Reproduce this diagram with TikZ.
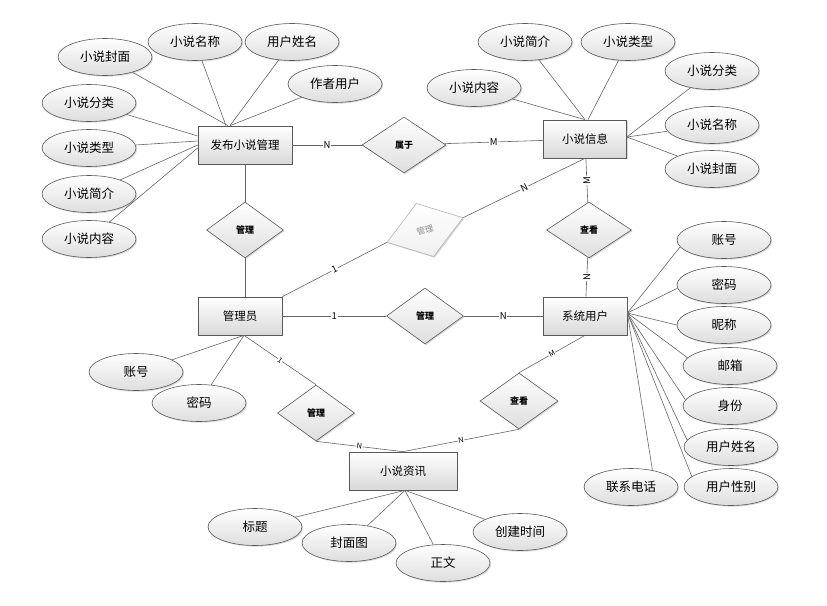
\documentclass[tikz,border=0pt]{standalone}
\usepackage{fontspec}
\setmainfont{Noto Sans CJK SC}
\usetikzlibrary{shapes.geometric,shadows}

\begin{document}
\begin{tikzpicture}[x = 1pt, y = -1pt,
    attr/.style = {ellipse, draw = black!65, line width = 0.6pt, top color = white, bottom color = black!13,
        drop shadow = {shadow xshift = 1.2pt, shadow yshift = -1.2pt, opacity = 0.3},
        minimum width = 94pt, minimum height = 37pt, inner sep = 0pt, font = \fontsize{12.5}{14}\selectfont},
    entity/.style = {rectangle, draw = black!65, line width = 0.7pt, top color = white, bottom color = black!15,
        drop shadow = {shadow xshift = 1.2pt, shadow yshift = -1.2pt, opacity = 0.3},
        minimum height = 38pt, inner sep = 0pt, font = \fontsize{11.5}{13}\selectfont},
    rel/.style = {diamond, draw = black!65, line width = 0.6pt, top color = white, bottom color = black!13,
        drop shadow = {shadow xshift = 1.2pt, shadow yshift = -1.2pt, opacity = 0.3},
        minimum width = 77pt, minimum height = 56pt, inner sep = 0pt, font = \bfseries\fontsize{9}{10}\selectfont},
    link/.style = {draw = black!60, line width = 0.6pt},
    card/.style = {fill = white, inner sep = 0.8pt, font = \fontsize{9.5}{10}\selectfont},
    smallcard/.style = {fill = white, inner sep = 0.5pt, font = \fontsize{7.5}{8}\selectfont}]
    \useasboundingbox (0, 0) rectangle (827, 605);

    \node [entity, minimum width = 94pt] (pub) at (245, 145) {发布小说管理};
    \node [entity, minimum width = 83pt] (info) at (585, 139) {小说信息};
    \node [entity, minimum width = 84pt] (adm) at (240, 316) {管理员};
    \node [entity, minimum width = 84pt] (usr) at (585, 316) {系统用户};
    \node [entity, minimum width = 108pt] (res) at (403, 471) {小说资讯};

    \node [rel, minimum width = 84pt] (belong) at (404, 145) {属于};
    \node [rel] (mng1) at (245, 230) {管理};
    \node [rel] (mng2) at (425, 316) {管理};
    \node [rel] (mng3) at (316, 413) {管理};
    \node [rel, minimum width = 85pt] (look1) at (589, 230) {查看};
    \node [rel, minimum width = 78pt] (look2) at (519, 401) {查看};
    \node [rel, rotate = 18, minimum width = 80pt, draw = black!30, bottom color = black!6, text = black!45,
        font = \fontsize{8.5}{9}\selectfont] (mng4) at (425, 230) {管理};

    \node [attr] (pa1) at (105, 57) {小说封面};
    \node [attr] (pa2) at (195, 42) {小说名称};
    \node [attr] (pa3) at (292, 42) {用户姓名};
    \node [attr] (pa4) at (335, 84) {作者用户};
    \node [attr] (pa5) at (89, 103) {小说分类};
    \node [attr] (pa6) at (89, 148) {小说类型};
    \node [attr] (pa7) at (89, 194) {小说简介};
    \node [attr] (pa8) at (89, 239) {小说内容};

    \node [attr] (ia1) at (474, 88) {小说内容};
    \node [attr] (ia2) at (525, 42) {小说简介};
    \node [attr] (ia3) at (628, 42) {小说类型};
    \node [attr] (ia4) at (712, 71) {小说分类};
    \node [attr] (ia5) at (712, 125) {小说名称};
    \node [attr] (ia6) at (712, 169) {小说封面};

    \node [attr] (aa1) at (136, 372) {账号};
    \node [attr] (aa2) at (199, 403) {密码};

    \node [attr] (ua1) at (724, 240) {账号};
    \node [attr] (ua2) at (724, 285) {密码};
    \node [attr] (ua3) at (724, 325) {昵称};
    \node [attr] (ua4) at (730, 366) {邮箱};
    \node [attr] (ua5) at (730, 406) {身份};
    \node [attr] (ua6) at (731, 447) {用户姓名};
    \node [attr] (ua7) at (731, 487) {用户性别};
    \node [attr] (ua8) at (631, 487) {联系电话};

    \node [attr] (ra1) at (255, 527) {标题};
    \node [attr] (ra2) at (349, 543) {封面图};
    \node [attr] (ra3) at (443, 563) {正文};
    \node [attr] (ra4) at (520, 532) {创建时间};

    \draw [link] (pub) -- node [card] {N} (belong);
    \draw [link] (belong) -- node [card] {M} (info);
    \draw [link] (pub) -- (mng1);
    \draw [link] (mng1.south) -- (mng1.south |- adm.north);
    \draw [link] (adm) -- node [card] {1} (mng2);
    \draw [link] (mng2) -- node [card] {N} (usr);
    \draw [link] (adm.north east) -- node [card, sloped] {1} (mng4.west);
    \draw [link] (mng4.east) -- node [card, sloped] {N} (info.south);
    \draw [link] (info) -- node [card, rotate = 90] {M} (look1);
    \draw [link] (look1) -- node [card, rotate = 90] {N} (usr);
    \draw [link] ([xshift = 4pt]adm.south) -- node [smallcard, sloped] {1} (mng3.north);
    \draw [link] (mng3.south) -- node [smallcard, sloped] {N} (res.north);
    \draw [link] (look2.north) -- node [smallcard, sloped] {M} (usr.south);
    \draw [link] (look2.south) -- node [smallcard, sloped] {N} (res.north);

    \draw [link] ([xshift = -17pt]pub.north) -- (pa1);
    \draw [link] ([xshift = -19pt]pub.north) -- (pa2);
    \draw [link] ([xshift = -15pt]pub.north) -- (pa3);
    \draw [link] ([xshift = -15pt]pub.north) -- (pa4);
    \draw [link] ([yshift = 9pt]pub.west) -- (pa5);
    \draw [link] ([yshift = 4pt]pub.west) -- (pa6);
    \draw [link] ([yshift = 0pt]pub.west) -- (pa7);
    \draw [link] ([yshift = -3pt]pub.west) -- (pa8);

    \draw [link] (info.north) -- (ia1);
    \draw [link] (info.north) -- (ia2);
    \draw [link] ([xshift = 3pt]info.north) -- (ia3);
    \draw [link] ([yshift = 2pt]info.east) -- (ia4);
    \draw [link] ([yshift = 2pt]info.east) -- (ia5);
    \draw [link] ([yshift = 2pt]info.east) -- (ia6);

    \draw [link] ([xshift = 4pt]adm.south) -- (aa1);
    \draw [link] ([xshift = 4pt]adm.south) -- (aa2);

    \foreach \i/\a in {1/189, 2/184, 3/180, 4/169, 5/172, 6/171, 7/165, 8/38}
        \draw [link] ([yshift = 3pt]usr.east) -- (ua\i.\a);

    \foreach \i in {1, ..., 4}
        \draw [link] ([xshift = 2pt]res.south) -- (ra\i);
\end{tikzpicture}
\end{document}
